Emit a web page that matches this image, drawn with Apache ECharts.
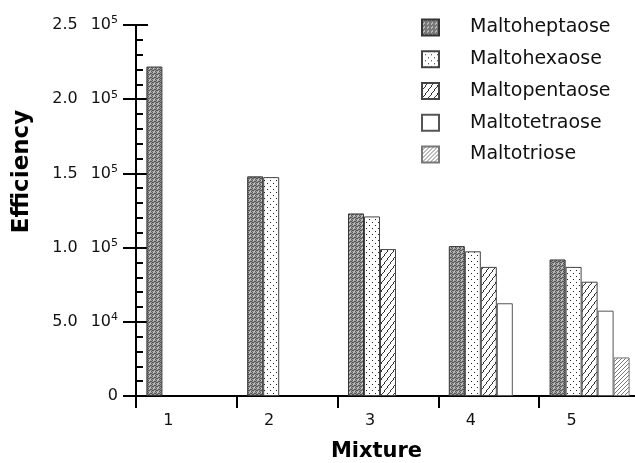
<!DOCTYPE html>
<html>
<head>
<meta charset="utf-8">
<script src="https://cdn.jsdelivr.net/npm/echarts@6/dist/echarts.min.js"></script>
<style>
  html, body { margin: 0; padding: 0; background: #fff; }
  #chart { width: 635px; height: 463px; }
</style>
</head>
<body>
<div id="chart"></div>
<script>
// data
const mixtures = ['1', '2', '3', '4', '5'];
const heptaose = [222000, 148000, 123000, 101000, 92000];
const hexaose = [null, 147500, 121000, 97500, 87000];
const pentaose = [null, null, 99000, 87000, 77000];
const tetraose = [null, null, null, 62500, 57500];
const triose = [null, null, null, null, 26000];
const seriesNames = ['Maltoheptaose', 'Maltohexaose', 'Maltopentaose', 'Maltotetraose', 'Maltotriose'];
// y tick labels: value -> [mantissa, exponent]
const yTickValues = [0, 50000, 100000, 150000, 200000, 250000];
const yTickMantissa = ['0', '5.0', '1.0', '1.5', '2.0', '2.5'];
const yTickExponent = ['', '4', '5', '5', '5', '5'];

// small repeating tiles for the fill patterns
function tile(w, h, draw) {
  const c = document.createElement('canvas');
  c.width = w;
  c.height = h;
  const ctx = c.getContext('2d');
  ctx.fillStyle = '#fff';
  ctx.fillRect(0, 0, w, h);
  draw(ctx);
  return c;
}

// dark gray stipple
const stipple = tile(4, 4, ctx => {
  ctx.fillStyle = '#9a9a9a';
  ctx.fillRect(0, 0, 4, 4);
  ctx.fillStyle = '#555';
  [[0, 0], [2, 1], [1, 2], [3, 3], [3, 1], [0, 2]].forEach(p => ctx.fillRect(p[0], p[1], 1, 1));
  ctx.fillStyle = '#d0d0d0';
  [[1, 0], [2, 3]].forEach(p => ctx.fillRect(p[0], p[1], 1, 1));
});
// dots
const dots = tile(6, 6, ctx => {
  ctx.fillStyle = '#222';
  ctx.fillRect(0, 0, 1, 1);
  ctx.fillRect(3, 3, 1, 1);
});
// wide "/" hatch, a bit steeper than 45 degrees
const hatch = tile(6, 8, ctx => {
  ctx.fillStyle = '#333';
  for (let y = 0; y < 8; y++) ctx.fillRect(Math.floor((7 - y) * 6 / 8), y, 1, 1);
});
// dense "/" hatch
const denseHatch = tile(4, 4, ctx => {
  ctx.fillStyle = '#777';
  for (let i = 0; i < 4; i++) ctx.fillRect(i, 3 - i, 1, 1);
});

const fills = [
  { image: stipple, repeat: 'repeat' },
  { image: dots, repeat: 'repeat' },
  { image: hatch, repeat: 'repeat' },
  '#fff',
  { image: denseHatch, repeat: 'repeat' }
];
const borders = ['#333', '#444', '#444', '#555', '#777'];
const values = [heptaose, hexaose, pentaose, tetraose, triose];

const chart = echarts.init(document.getElementById('chart'), null, { renderer: 'canvas' });

const font = 'DejaVu Sans';
const option = {
  animation: false,
  textStyle: { fontFamily: font, color: '#111' },
  grid: { left: 136, top: 25, bottom: 67, right: -5, outerBoundsMode: 'none' },
  legend: {
    orient: 'vertical',
    left: 416,
    top: 13,
    itemWidth: 17,
    itemHeight: 16,
    itemGap: 12.75,
    icon: 'rect',
    data: seriesNames,
    textStyle: { fontFamily: font, fontSize: 19, color: '#111', padding: [0, 0, 0, 26], lineHeight: 16 }
  },
  xAxis: {
    type: 'category',
    data: mixtures,
    name: 'Mixture',
    nameLocation: 'middle',
    nameGap: 45,
    nameTextStyle: { fontFamily: font, fontWeight: 'bold', fontSize: 21, color: '#000', padding: [0, 23, 0, 0] },
    axisLine: { lineStyle: { color: '#000', width: 2 } },
    axisTick: { show: true, length: 12, lineStyle: { color: '#000', width: 2 } },
    axisLabel: { fontSize: 16, color: '#111', margin: 17, padding: [0, 36, 0, 0] },
    splitLine: { show: false }
  },
  yAxis: [
    {
      type: 'value',
      min: 0,
      max: 250000,
      interval: 50000,
      name: 'Efficiency',
      nameLocation: 'middle',
      nameGap: 102,
      nameTextStyle: { fontFamily: font, fontWeight: 'bold', fontSize: 23, color: '#000', padding: [0, 0, 0, 78] },
      axisLine: { show: true, lineStyle: { color: '#000', width: 2 } },
      axisTick: { show: true, length: 13, lineStyle: { color: '#000', width: 2 } },
      splitLine: { show: false },
      axisLabel: {
        margin: 18,
        formatter: v => {
          const i = yTickValues.indexOf(v);
          if (i < 1) return '{m|' + yTickMantissa[0] + '}';
          return '{m|' + yTickMantissa[i] + '}{b|10}{s|' + yTickExponent[i] + '}';
        },
        rich: {
          m: { fontFamily: font, fontSize: 16, color: '#111', lineHeight: 20 },
          b: { fontFamily: font, fontSize: 16, color: '#111', lineHeight: 20, padding: [0, 0, 0, 13] },
          s: { fontFamily: font, fontSize: 11, color: '#111', verticalAlign: 'top', lineHeight: 12 }
        }
      }
    },
    {
      // inner ticks: right half of the major ticks plus minor ticks
      type: 'value',
      position: 'left',
      min: 0,
      max: 250000,
      interval: 50000,
      axisLine: { show: false },
      axisLabel: { show: false },
      splitLine: { show: false },
      axisTick: { show: true, inside: true, length: 12, lineStyle: { color: '#000', width: 2 } },
      minorTick: { show: true, splitNumber: 5, length: 7, lineStyle: { color: '#000', width: 2 } }
    }
  ],
  series: seriesNames.map((name, k) => ({
    name: name,
    type: 'bar',
    data: values[k],
    barWidth: 16,
    barGap: '0%',
    itemStyle: { color: fills[k], borderColor: borders[k], borderWidth: 1 }
  }))
};

chart.setOption(option);
</script>
</body>
</html>
